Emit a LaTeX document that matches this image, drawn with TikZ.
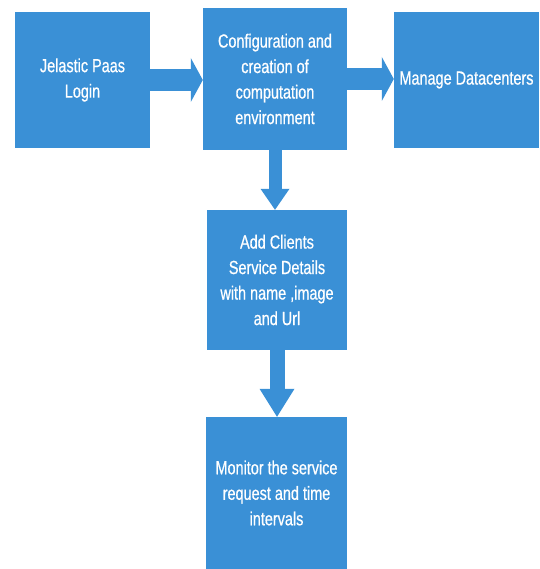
\documentclass[tikz,border=0pt]{standalone}
\usepackage{fontspec}
\setmainfont{Liberation Sans}[FakeStretch=0.76, FakeBold=0.6]
\usetikzlibrary{arrows.meta}
\definecolor{boxblue}{RGB}{58,144,214}
\tikzset{
  flowbox/.style={fill=boxblue, draw=none, text=white, align=center, inner sep=0pt,
    font=\fontsize{19}{25.5}\selectfont},
  harrow/.style={draw=boxblue, line width=22pt,
    -{Triangle[length=12pt 0 0, width=44pt 0 0, line width=0pt 0 0]}},
  varrowa/.style={draw=boxblue, line width=13pt,
    -{Triangle[length=21pt 0 0, width=29pt 0 0, line width=0pt 0 0]}},
  varrowb/.style={draw=boxblue, line width=15pt,
    -{Triangle[length=28pt 0 0, width=35pt 0 0, line width=0pt 0 0]}}
}
\begin{document}
\begin{tikzpicture}[x=1pt,y=-1pt]
\useasboundingbox (0,0) rectangle (539,569);
\node[flowbox, minimum width=135pt, minimum height=136pt] (b1) at (82.5,80) {Jelastic Paas\\Login};
\node[flowbox, minimum width=144pt, minimum height=142pt] (b2) at (275,79) {Configuration and\\creation of\\computation\\environment};
\node[flowbox, minimum width=145pt, minimum height=136pt] (b3) at (466.5,80) {Manage Datacenters};
\node[flowbox, minimum width=140pt, minimum height=140pt] (b4) at (277,280) {Add Clients\\Service Details\\with name ,image\\and Url};
\node[flowbox, minimum width=141pt, minimum height=152pt] (b5) at (276.5,493) {Monitor the service\\request and time\\intervals};
\draw[harrow] (b1.east) -- (b2.west |- b1.east);
\draw[harrow] (b2.east) -- (b3.west |- b2.east);
\draw[varrowa] (b2.south) -- (b2.south |- b4.north);
\draw[varrowb] (b4.south) -- (b4.south |- b5.north);
\end{tikzpicture}
\end{document}
